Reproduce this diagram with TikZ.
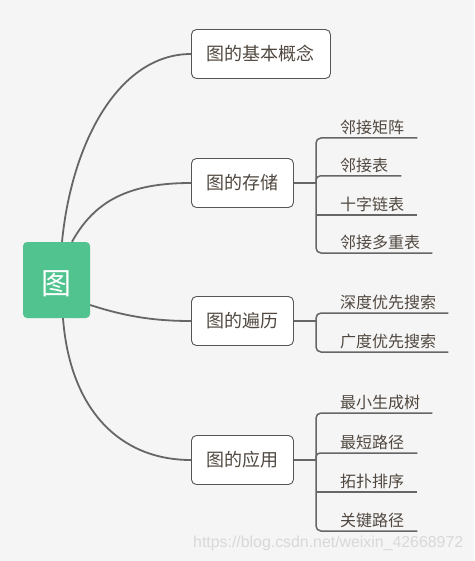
\documentclass[tikz,border=0pt]{standalone}
\usepackage{fontspec}
\setmainfont{Liberation Sans}
\newfontfamily\cjk{Noto Sans CJK SC}
\usetikzlibrary{calc}
\definecolor{bgc}{RGB}{245,245,245}
\definecolor{rootc}{RGB}{80,195,143}
\definecolor{linec}{RGB}{102,102,102}
\definecolor{boxline}{RGB}{85,85,85}
\definecolor{txtc}{RGB}{80,72,64}
\definecolor{wmc}{RGB}{216,216,216}
\tikzset{
  rootbox/.style={fill=rootc, rounded corners=4pt, minimum width=67pt, minimum height=76pt, inner sep=0pt, text=white, font=\cjk\fontsize{30}{30}\selectfont},
  topicbox/.style={draw=boxline, line width=0.9pt, fill=white, rounded corners=5pt, minimum height=49pt, inner sep=0pt, anchor=west, text=txtc, font=\cjk\fontsize{18}{18}\selectfont},
  leaf/.style={anchor=south west, inner xsep=0pt, inner ysep=3pt, text=txtc, font=\cjk\fontsize{16}{16}\selectfont},
  conn/.style={draw=linec, line width=1.8pt},
  branch/.style={draw=linec, line width=1.5pt},
}
\begin{document}
\begin{tikzpicture}[x=1pt,y=-1pt]
\fill[bgc] (0,0) rectangle (474,561);
\useasboundingbox (0,0) rectangle (474,561);

\node[rootbox] (r) at (56.5,280) {\raisebox{-14.5pt}[0pt][0pt]{图}};

\node[topicbox, minimum width=139pt] (b1) at (191,54) {图的基本概念};
\node[topicbox, minimum width=102pt] (b2) at (191,183) {图的存储};
\node[topicbox, minimum width=102pt] (b3) at (191,321) {图的遍历};
\node[topicbox, minimum width=102pt] (b4) at (191,460) {图的应用};

% root connectors
\draw[conn] ($(r.north)+(5.5,0)$) .. controls (72,140) and (120,54) .. (b1.west);
\draw[conn] ($(r.north)+(15.5,0)$) .. controls (95,200) and (130,183) .. (b2.west);
\draw[conn] ($(r.east)+(0,25)$) .. controls (130,318) and (160,321) .. (b3.west);
\draw[conn] ($(r.south)+(6.5,0)$) .. controls (70,410) and (120,460) .. (b4.west);

% storage children
\node[leaf] (c11) at (316,138) {\hspace*{24pt}邻接矩阵\hspace*{13pt}};
\node[leaf] (c12) at (316,176) {\hspace*{24pt}邻接表\hspace*{13pt}};
\node[leaf] (c13) at (316,215) {\hspace*{24pt}十字链表\hspace*{13pt}};
\node[leaf] (c14) at (316,253) {\hspace*{24pt}邻接多重表\hspace*{12pt}};
\draw[branch, rounded corners=5pt] (c11.south east) -- (c11.south west) -- (c14.south west) -- (c14.south east);
\draw[branch, rounded corners=4pt] (c12.south east) -- (c12.south west) -- ($(c12.south west)+(0,8)$);
\draw[branch] (c13.south west) -- (c13.south east);
\draw[branch] (b2.east) -- (b2.east -| c11.south west);

% traversal children
\node[leaf] (c21) at (316,313) {\hspace*{24pt}深度优先搜索\hspace*{12pt}};
\node[leaf] (c22) at (316,352) {\hspace*{24pt}广度优先搜索\hspace*{12pt}};
\draw[branch, rounded corners=5pt] (c21.south east) -- (c21.south west) -- (c22.south west) -- (c22.south east);
\draw[branch] (b3.east) -- (b3.east -| c21.south west);

% application children
\node[leaf] (c31) at (316,413) {\hspace*{24pt}最小生成树\hspace*{12pt}};
\node[leaf] (c32) at (316,453) {\hspace*{24pt}最短路径\hspace*{13pt}};
\node[leaf] (c33) at (316,492) {\hspace*{24pt}拓扑排序\hspace*{13pt}};
\node[leaf] (c34) at (316,531) {\hspace*{24pt}关键路径\hspace*{13pt}};
\draw[branch, rounded corners=5pt] (c31.south east) -- (c31.south west) -- (c34.south west) -- (c34.south east);
\draw[branch, rounded corners=4pt] (c32.south east) -- (c32.south west) -- ($(c32.south west)+(0,8)$);
\draw[branch] (c33.south west) -- (c33.south east);
\draw[branch] (b4.east) -- (b4.east -| c31.south west);

% watermark
\node[anchor=west, inner sep=0pt, text=wmc, font=\fontsize{17}{17}\selectfont] (wm) at (193,543) {\resizebox{270pt}{!}{https://blog.csdn.net/weixin\_42668972}};
\end{tikzpicture}
\end{document}
